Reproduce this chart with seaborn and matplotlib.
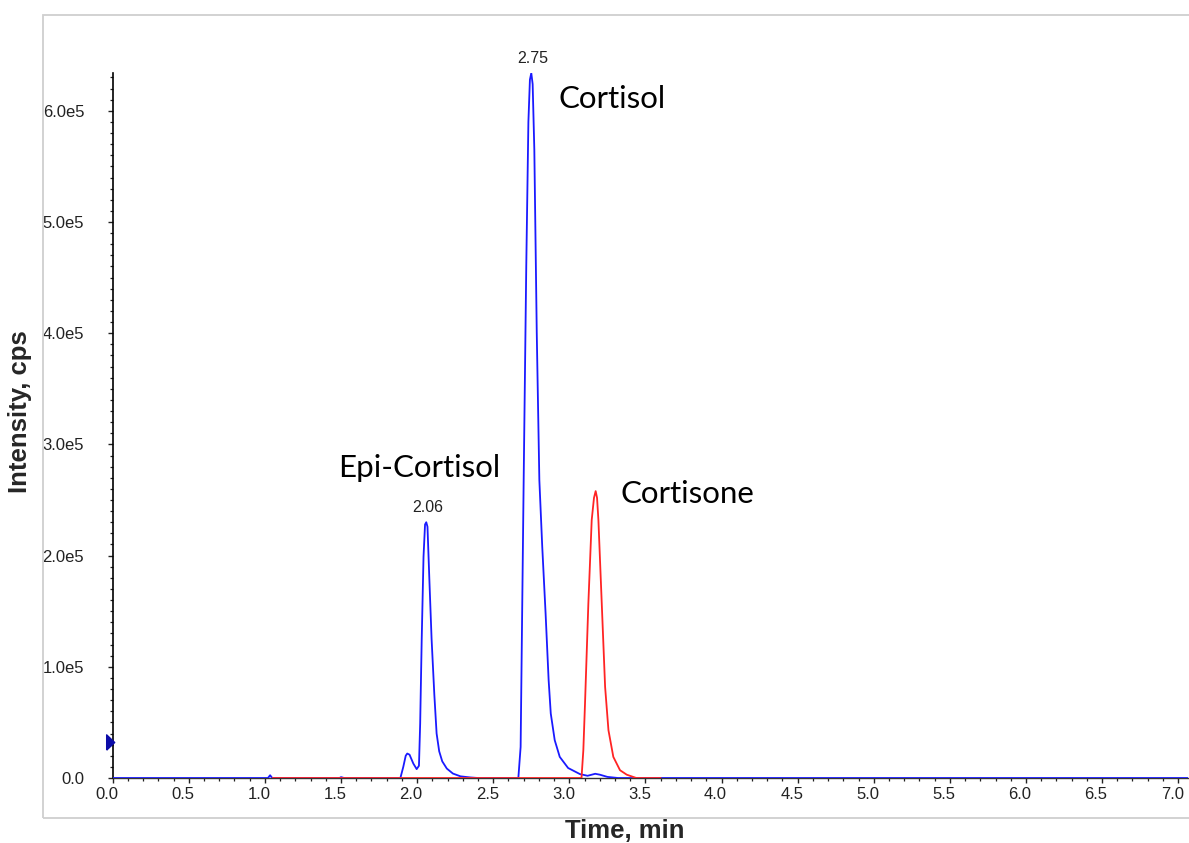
import matplotlib
matplotlib.use("Agg")
import matplotlib.pyplot as plt
from matplotlib.patches import Rectangle
from matplotlib.ticker import MultipleLocator, FuncFormatter
from matplotlib.transforms import ScaledTranslation
import numpy as np
import pandas as pd
import seaborn as sns

# Cortisol / Epi-Cortisol transition trace (time in min, intensity in cps)
blue_time = [0.00, 1.02, 1.034, 1.048, 1.49, 1.50, 1.52, 1.89, 1.909, 1.925,
             1.935, 1.950, 1.975, 1.997, 2.012, 2.020, 2.030, 2.042, 2.052, 2.060,
             2.068, 2.080, 2.095, 2.113, 2.128, 2.145, 2.165, 2.195, 2.235, 2.285,
             2.35, 2.40, 2.665, 2.680, 2.690, 2.700, 2.717, 2.731, 2.741, 2.750,
             2.759, 2.770, 2.786, 2.803, 2.822, 2.844, 2.864, 2.878, 2.904, 2.937,
             2.992, 3.07, 3.12, 3.17, 3.20, 3.25, 3.32, 7.07]
blue_int = [0, 0, 2500, 0, 0, 800, 0, 0, 10000, 20000,
            22000, 21000, 13000, 8000, 11000, 49000, 124000, 199000, 228000, 230000,
            226000, 180000, 125000, 75000, 40000, 24000, 15000, 8500, 4000, 1500,
            500, 0, 0, 28000, 148000, 268000, 460000, 590000, 628000, 634000,
            624000, 565000, 400000, 268000, 208000, 148000, 88000, 58000, 34000, 19000,
            9000, 3500, 2000, 3800, 3000, 1000, 0, 0]

# Cortisone transition trace
red_time = [1.05, 3.080, 3.092, 3.103, 3.125, 3.147, 3.162, 3.173, 3.182, 3.191,
            3.213, 3.235, 3.257, 3.289, 3.333, 3.377, 3.44, 3.60]
red_int = [0, 0, 25000, 67000, 157000, 232000, 252000, 258000, 252000, 232000,
           157000, 82000, 43000, 19000, 7000, 3000, 0, 0]

# Retention times printed above the labelled apexes
apex_times = [2.06, 2.75]

# Compound names and where they sit (time, intensity)
compound_names = ["Epi-Cortisol", "Cortisol", "Cortisone"]
compound_pos = [(2.014, 2.79e5), (3.28, 6.11e5), (3.773, 2.55e5)]

# Threshold marker on the intensity axis
marker_level = 3.2e4

blue_df = pd.DataFrame({"time": blue_time, "intensity": blue_int})
red_df = pd.DataFrame({"time": red_time, "intensity": red_int})

sns.set_style("ticks")
plt.rcParams["font.family"] = ["Liberation Sans", "DejaVu Sans"]

fig = plt.figure(figsize=(11.89, 8.43), dpi=100)
ax = fig.add_axes([0.0948, 0.0771, 0.9044, 0.8363])

sns.lineplot(data=blue_df, x="time", y="intensity", ax=ax, color="#1a1aff",
             linewidth=1.3, estimator=None, sort=False, zorder=3)
sns.lineplot(data=red_df, x="time", y="intensity", ax=ax, color="#ff2424",
             linewidth=1.3, estimator=None, sort=False, zorder=4)

ax.set_xlim(0, 7.065)
ax.set_ylim(0, 6.34e5)

ax.xaxis.set_major_locator(MultipleLocator(0.5))
ax.xaxis.set_minor_locator(MultipleLocator(0.1))
ax.yaxis.set_major_locator(MultipleLocator(1e5))
ax.yaxis.set_minor_locator(MultipleLocator(1e4))
ax.xaxis.set_major_formatter(FuncFormatter(lambda v, p: f"{v:.1f}"))


def sci_label(v, pos):
    if v <= 0.5:
        return "0.0" if abs(v) <= 0.5 else ""
    exp = int(np.floor(np.log10(v)))
    return f"{v / 10**exp:.1f}e{exp}"


ax.yaxis.set_major_formatter(FuncFormatter(sci_label))

ax.tick_params(axis="both", which="major", direction="out", length=3.5,
               width=1.0, labelsize=12, colors="#222222")
ax.tick_params(axis="both", which="minor", direction="out", length=2,
               width=0.9, colors="#222222")
ax.tick_params(axis="y", which="major", pad=17)
ax.tick_params(axis="x", which="major", pad=3)

for side in ("top", "right"):
    ax.spines[side].set_visible(False)
ax.spines["left"].set_color("black")
ax.spines["left"].set_linewidth(1.2)
ax.spines["bottom"].set_color("#333333")
ax.spines["bottom"].set_linewidth(1.0)

ax.set_xlabel("Time, min", fontsize=18.5, fontweight="bold")
ax.set_ylabel("Intensity, cps", fontsize=18.5, fontweight="bold")
ax.xaxis.set_label_coords(0.476, -0.075)
ax.xaxis.label.set_va("center")
ax.yaxis.set_label_coords(-0.0862, 0.52)
ax.yaxis.label.set_va("center")

# Time labels sit a few pixels left of their ticks
shift = ScaledTranslation(-6 / 100, 0, fig.dpi_scale_trans)
for lbl in ax.xaxis.get_majorticklabels():
    lbl.set_transform(lbl.get_transform() + shift)

# Retention-time labels at the apex of each labelled peak
for t in apex_times:
    idx = int(np.argmin(np.abs(np.array(blue_time) - t)))
    ax.annotate(f"{blue_time[idx]:.2f}", xy=(blue_time[idx], blue_int[idx]),
                xytext=(1, 5), textcoords="offset points", ha="center",
                va="bottom", fontsize=11.5, color="#222222")

for name, (tx, ty) in zip(compound_names, compound_pos):
    ax.text(tx, ty, name, fontsize=22.5, family=["Lato", "DejaVu Sans"],
            ha="center", va="center", color="black")

tri = [(-0.5, -1.0), (0.55, 0.0), (-0.5, 1.0), (-0.5, -1.0)]
ax.plot([-0.02], [marker_level], marker=tri, markersize=11, color="#0c0ca8",
        linestyle="none", clip_on=False, zorder=5)

# Light outer frame around the plot area
frame = Rectangle((43 / 1189, 1 - 818 / 843), (1300 - 43) / 1189,
                  (818 - 15) / 843, transform=fig.transFigure, fill=False,
                  edgecolor="#cfcfcf", linewidth=1.3, zorder=0)
fig.patches.append(frame)

fig.savefig("out.png", dpi=100)
